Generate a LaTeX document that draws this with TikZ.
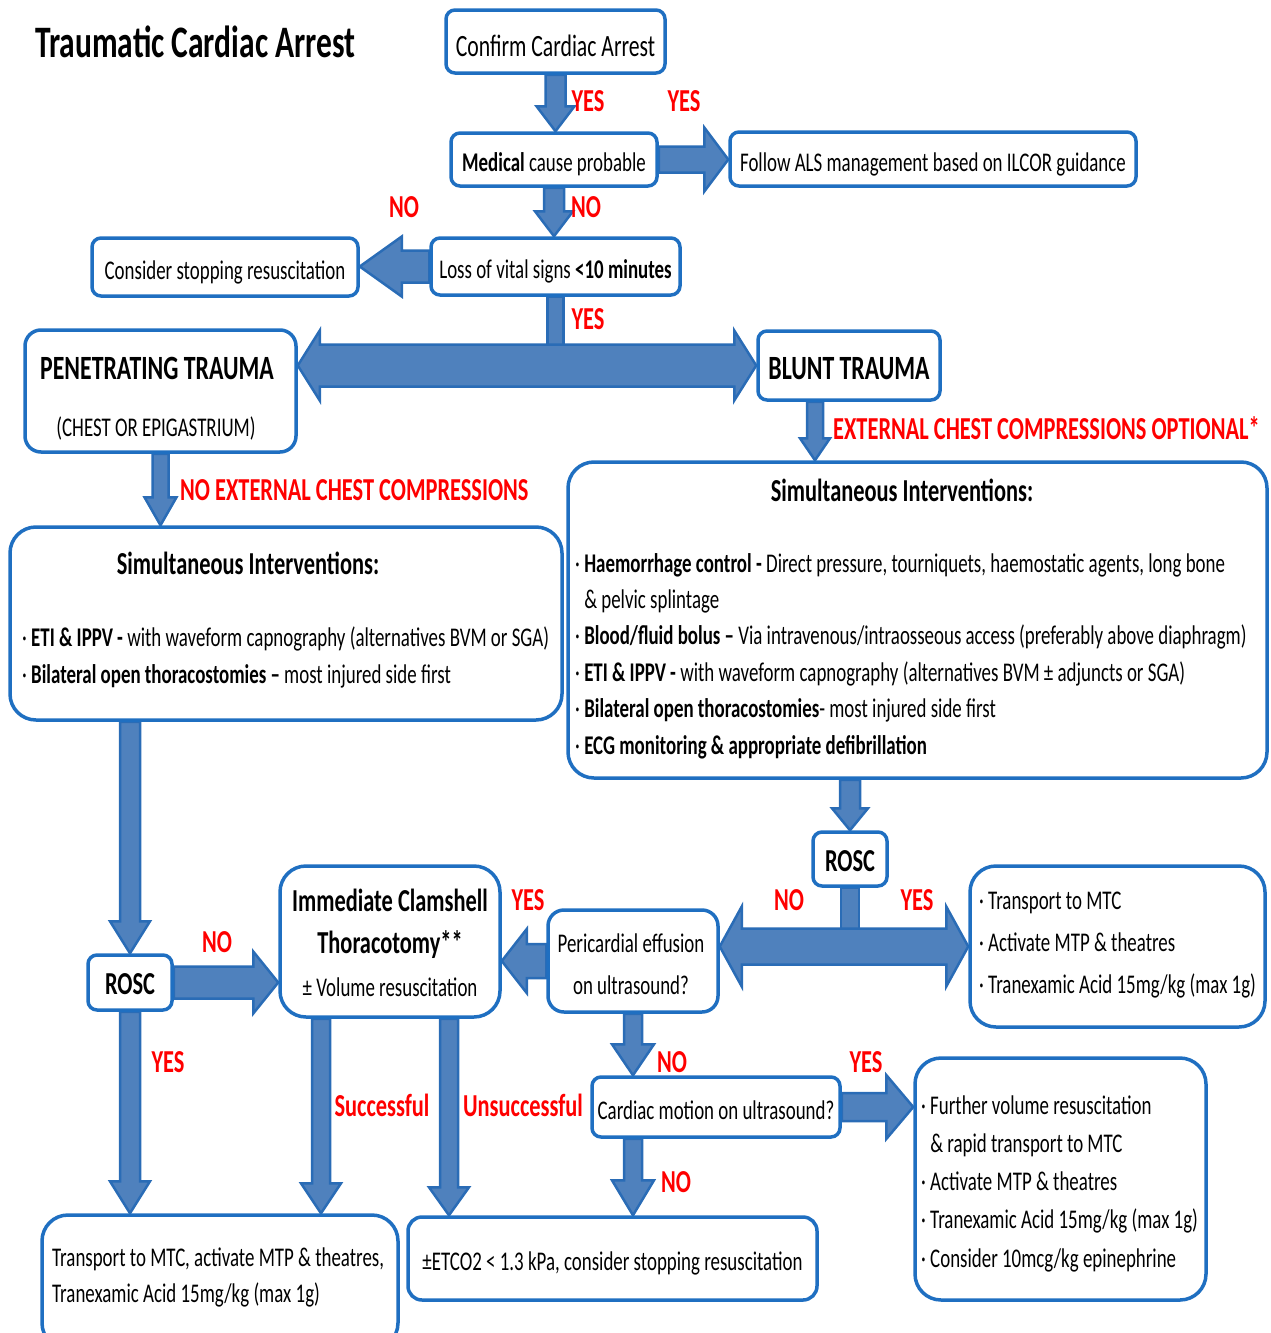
\documentclass[tikz,border=0pt]{standalone}
\usepackage{fontspec}
\setmainfont[FakeStretch=0.7]{Carlito}
\usetikzlibrary{calc}

\definecolor{boxblue}{HTML}{1F6FC1}
\definecolor{arrowfill}{HTML}{4F81BD}
\definecolor{arrowline}{HTML}{2A6CB6}
\definecolor{labelred}{HTML}{FF0000}

\pgfdeclarelayer{bg}
\pgfsetlayers{bg,main}

\newcommand{\boxfont}{\fontsize{27}{33}\selectfont}
\newcommand{\boldfont}{\bfseries\fontsize{32}{38}\selectfont}
\newcommand{\headfont}{\bfseries\fontsize{34}{40}\selectfont}
\newcommand{\lblfont}{\bfseries\fontsize{32}{38}\selectfont}

% block arrow: shaft half width, head half width, head length, start, tip
\newcommand{\barrow}[5]{%
  \coordinate (ba-s) at (#4);
  \coordinate (ba-t) at (#5);
  \coordinate (ba-b) at ($(ba-t)!#3pt!(ba-s)$);
  \draw[blockarrow] ($(ba-s)!#1pt!90:(ba-t)$) -- ($(ba-b)!#1pt!90:(ba-t)$)
    -- ($(ba-b)!#2pt!90:(ba-t)$) -- (ba-t) -- ($(ba-b)!#2pt!-90:(ba-t)$)
    -- ($(ba-b)!#1pt!-90:(ba-t)$) -- ($(ba-s)!#1pt!-90:(ba-t)$) -- cycle;}
% double block arrow: shaft half width, head half width, head length, tip, tip
\newcommand{\dbarrow}[5]{%
  \coordinate (da-p) at (#4);
  \coordinate (da-q) at (#5);
  \coordinate (da-b1) at ($(da-p)!#3pt!(da-q)$);
  \coordinate (da-b2) at ($(da-q)!#3pt!(da-p)$);
  \draw[blockarrow] (da-p) -- ($(da-b1)!#2pt!90:(da-q)$) -- ($(da-b1)!#1pt!90:(da-q)$)
    -- ($(da-b2)!#1pt!-90:(da-p)$) -- ($(da-b2)!#2pt!-90:(da-p)$) -- (da-q)
    -- ($(da-b2)!#2pt!90:(da-p)$) -- ($(da-b2)!#1pt!90:(da-p)$)
    -- ($(da-b1)!#1pt!-90:(da-q)$) -- ($(da-b1)!#2pt!-90:(da-q)$) -- cycle;}
% plain stem: half width, start, end
\newcommand{\bstem}[3]{%
  \draw[blockarrow] ($(#2)!#1pt!90:(#3)$) -- ($(#3)!#1pt!-90:(#2)$)
    -- ($(#3)!#1pt!90:(#2)$) -- ($(#2)!#1pt!-90:(#3)$) -- cycle;}

\begin{document}
\begin{tikzpicture}[x=1pt,y=-1pt,
  box/.style={draw=boxblue,line width=3.5pt,rounded corners=9pt,fill=white,
    inner sep=0pt,font=\boxfont,text height=24pt,text depth=0pt},
  bigbox/.style={box,rounded corners=26pt},
  txt/.style={inner sep=0pt,font=\boxfont,align=left},
  lbl/.style={inner sep=0pt,text=labelred,font=\lblfont},
  blockarrow/.style={fill=arrowfill,draw=arrowline,line width=2.5pt}]
  \useasboundingbox (0,0) rectangle (1271,1333);

  \node[inner sep=0pt,anchor=west,font=\bfseries\fontsize{45}{50}\selectfont] (title) at (35,42) {Traumatic Cardiac Arrest};

  % top of the chart
  \node[box,minimum width=219pt,minimum height=63pt,font=\fontsize{31}{36}\selectfont,text height=30pt] (confirm) at (555.5,41.5) {Confirm Cardiac Arrest};
  \node[box,minimum width=206pt,minimum height=53pt] (medical) at (554,159.5) {\textbf{Medical} cause probable};
  \node[box,minimum width=406pt,minimum height=54pt] (follow) at (933,159) {Follow ALS management based on ILCOR guidance};
  \node[box,minimum width=266pt,minimum height=58pt] (stopres) at (225,267) {Consider stopping resuscitation};
  \node[box,minimum width=249pt,minimum height=57pt] (loss) at (555.5,266.5) {Loss of vital signs \textbf{<10 minutes}};

  % trauma type
  \node[box,rounded corners=16pt,minimum width=271pt,minimum height=122pt] (pen) at (160.5,391) {};
  \node[txt,font=\headfont] (pentitle) at (157,368) {PENETRATING TRAUMA};
  \node[txt] (pensub) at (156,428) {(CHEST OR EPIGASTRIUM)};
  \node[box,minimum width=182pt,minimum height=69pt,font=\headfont,text height=27pt] (blunt) at (849,365.5) {BLUNT TRAUMA};

  % simultaneous interventions
  \node[bigbox,minimum width=552pt,minimum height=193pt] (simL) at (286,623.5) {};
  \node[txt,font=\boldfont] (simLtitle) at (248,563) {Simultaneous Interventions:};
  \node[txt,anchor=west,font=\fontsize{27}{37}\selectfont] (simLlist) at (22,657.5)
    {· \textbf{ETI \& IPPV -} with waveform capnography (alternatives BVM or SGA)\\
     · \textbf{Bilateral open thoracostomies –} most injured side first};
  \node[bigbox,minimum width=699pt,minimum height=316pt] (simR) at (917.5,620) {};
  \node[txt,font=\boldfont] (simRtitle) at (902,490) {Simultaneous Interventions:};
  \node[txt,anchor=west,font=\fontsize{27}{36.4}\selectfont] (simRlist) at (575,656)
    {· \textbf{Haemorrhage control -} Direct pressure, tourniquets, haemostatic agents, long bone\\
     \phantom{· }\& pelvic splintage\\
     · \textbf{Blood/fluid bolus –} Via intravenous/intraosseous access (preferably above diaphragm)\\
     · \textbf{ETI \& IPPV -} with waveform capnography (alternatives BVM ± adjuncts or SGA)\\
     · \textbf{Bilateral open thoracostomies}- most injured side first\\
     · \textbf{ECG monitoring \& appropriate defibrillation}};

  % lower part
  \node[box,minimum width=74pt,minimum height=54pt,font=\boldfont] (roscR) at (850,859) {ROSC};
  \node[bigbox,minimum width=295pt,minimum height=161pt] (transR) at (1117.5,946.5) {};
  \node[txt,anchor=west,font=\fontsize{27}{42}\selectfont] (transRlist) at (979,945)
    {· Transport to MTC\\· Activate MTP \& theatres\\· Tranexamic Acid 15mg/kg (max 1g)};
  \node[box,rounded corners=16pt,minimum width=170pt,minimum height=102pt] (pericard) at (633,961) {};
  \node[txt,align=center,font=\fontsize{27}{42}\selectfont] (pericardtxt) at (631,964) {Pericardial effusion\\on ultrasound?};
  \node[bigbox,minimum width=220pt,minimum height=151pt] (clam) at (390,941.5) {};
  \node[txt,align=center,font=\fontsize{27}{42.5}\selectfont] (clamtxt) at (390,942.5)
    {{\boldfont Immediate Clamshell}\\{\boldfont Thoracotomy**}\\± Volume resuscitation};
  \node[box,minimum width=84pt,minimum height=55pt,font=\boldfont] (roscL) at (130,982.5) {ROSC};
  \node[box,minimum width=248pt,minimum height=60pt] (cardm) at (716,1107) {Cardiac motion on ultrasound?};
  \node[bigbox,minimum width=291pt,minimum height=242pt] (further) at (1060.5,1179) {};
  \node[txt,anchor=west,font=\fontsize{27}{38.25}\selectfont] (furtherlist) at (921,1183.5)
    {· Further volume resuscitation\\\phantom{· }\& rapid transport to MTC\\· Activate MTP \& theatres\\
     · Tranexamic Acid 15mg/kg (max 1g)\\· Consider 10mcg/kg epinephrine};
  \node[bigbox,minimum width=356pt,minimum height=134pt] (transL) at (220,1282) {};
  \node[txt,anchor=west,font=\fontsize{27}{36}\selectfont] (transLtxt) at (52,1277.5)
    {Transport to MTC, activate MTP \& theatres,\\Tranexamic Acid 15mg/kg (max 1g)};
  \node[box,rounded corners=14pt,minimum width=409pt,minimum height=83pt] (etco2) at (612.5,1258.5) {±ETCO2 < 1.3 kPa, consider stopping resuscitation};

  % connectors
  \begin{pgfonlayer}{bg}
    \barrow{10}{19}{25}{confirm.south}{confirm.south |- medical.north}
    \barrow{13}{32}{24}{medical.east}{follow.west |- medical.east}
    \barrow{10}{19}{25}{medical.south}{medical.south |- loss.north}
    \barrow{16}{30}{42}{loss.west}{stopres.east |- loss.west}
    \bstem{8}{loss.south}{loss.south |- blunt.west}
    \dbarrow{21}{35}{22}{pen.east |- blunt.west}{blunt.west}
    \coordinate (bl-a) at ([xshift=-34pt]blunt.south);
    \barrow{8}{15}{22}{bl-a}{bl-a |- simR.north}
    \barrow{8}{16}{28}{pen.south}{pen.south |- simL.north}
    \barrow{10}{20}{32}{roscL.north |- simL.south}{roscL.north}
    \barrow{10}{18}{22}{roscR.north |- simR.south}{roscR.north}
    \bstem{9}{roscR.south}{roscR.south |- transR.west}
    \dbarrow{18}{40}{22}{pericard.east |- transR.west}{transR.west}
    \barrow{17}{32}{25}{pericard.west}{clam.east |- pericard.west}
    \barrow{16}{31}{25}{roscL.east}{clam.west |- roscL.east}
    \barrow{10}{20}{32}{roscL.south}{roscL.south |- transL.north}
    \coordinate (cl-s) at ([xshift=-69pt]clam.south);
    \coordinate (cl-u) at ([xshift=59pt]clam.south);
    \barrow{9}{20}{30}{cl-s}{cl-s |- transL.north}
    \barrow{9}{20}{28}{cl-u}{cl-u |- etco2.north}
    \barrow{9}{21}{31}{pericard.south}{pericard.south |- cardm.north}
    \barrow{14}{32}{27}{cardm.east}{further.west |- cardm.east}
    \barrow{9}{21}{35}{pericard.south |- cardm.south}{pericard.south |- etco2.north}
  \end{pgfonlayer}

  % labels
  \node[lbl] (yes1) at (588,101) {YES};
  \node[lbl] (yes2) at (684,101) {YES};
  \node[lbl] (no1) at (404,207) {NO};
  \node[lbl] (no2) at (586,207) {NO};
  \node[lbl] (yes3) at (588,319) {YES};
  \node[lbl,anchor=west] (optional) at (833,428) {EXTERNAL CHEST COMPRESSIONS OPTIONAL*};
  \node[lbl,anchor=west] (nocomp) at (180,490) {NO EXTERNAL CHEST COMPRESSIONS};
  \node[lbl] (no3) at (789,900) {NO};
  \node[lbl] (yes4) at (917,900) {YES};
  \node[lbl] (yes5) at (528,900) {YES};
  \node[lbl] (no4) at (217,942) {NO};
  \node[lbl] (yes6) at (168,1062) {YES};
  \node[lbl] (succ) at (382,1105) {Successful};
  \node[lbl] (unsucc) at (523,1105) {Unsuccessful};
  \node[lbl] (no5) at (672,1062) {NO};
  \node[lbl] (yes7) at (866,1062) {YES};
  \node[lbl] (no6) at (676,1182) {NO};
\end{tikzpicture}
\end{document}
